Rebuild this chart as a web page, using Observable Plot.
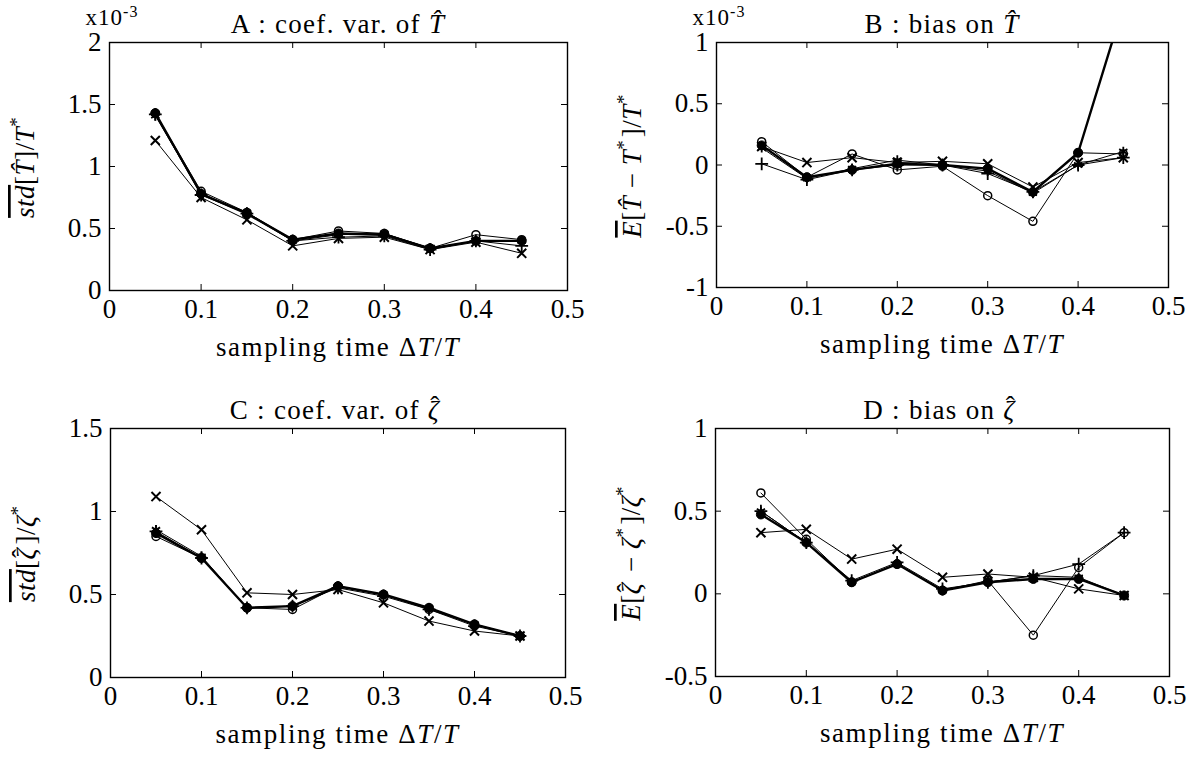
<!DOCTYPE html>
<html><head><meta charset="utf-8">
<script src="https://cdn.jsdelivr.net/npm/d3@7"></script>
<script src="https://cdn.jsdelivr.net/npm/@observablehq/plot@0.6"></script>
<style>
body{margin:0;background:#fff;}
#wrap{position:relative;width:1195px;height:764px;overflow:hidden;background:#fff;}
.panel{position:absolute;}
#wrap svg, #wrap svg text, #wrap svg tspan{font-family:"Liberation Serif","Times New Roman",serif !important;}
</style></head><body><div id="wrap"></div>
<script>
// ---------- data ----------
const samplingTimes = [0.05, 0.10, 0.15, 0.20, 0.25, 0.30, 0.35, 0.40, 0.45];
const seriesKeys = ["o", "x", "+", "*", "."];
const xTicks = [0, 0.1, 0.2, 0.3, 0.4, 0.5];
const yTicksA = [0, 0.5, 1, 1.5, 2];
const yTicksB = [-1, -0.5, 0, 0.5, 1];
const yTicksC = [0, 0.5, 1, 1.5];
const yTicksD = [-0.5, 0, 0.5, 1];

// A : coef. var. of T-hat (x1e-3)
const A_o   = [1.43, 0.80, 0.63, 0.41, 0.48, 0.46, 0.34, 0.45, 0.41];
const A_x   = [1.21, 0.75, 0.57, 0.36, 0.42, 0.43, 0.33, 0.39, 0.30];
const A_p   = [1.42, 0.77, 0.62, 0.40, 0.43, 0.44, 0.33, 0.40, 0.36];
const A_s   = [1.41, 0.78, 0.63, 0.40, 0.45, 0.46, 0.34, 0.40, 0.40];
const A_d   = [1.43, 0.78, 0.62, 0.41, 0.46, 0.45, 0.34, 0.40, 0.40];
// B : bias on T-hat (x1e-3)
const B_o   = [0.19, -0.10, 0.09, -0.04, -0.01, -0.25, -0.46, 0.10, 0.09];
const B_x   = [0.15, 0.02, 0.06, 0.02, 0.03, 0.01, -0.18, 0.02, 0.06];
const B_p   = [0.01, -0.12, -0.04, 0.00, 0.00, -0.07, -0.22, 0.00, 0.06];
const B_s   = [0.14, -0.11, -0.03, 0.04, 0.00, -0.05, -0.23, 0.00, 0.11];
const B_d   = [0.16, -0.10, -0.04, 0.01, 0.00, -0.03, -0.22, 0.10, 1.30];
// C : coef. var. of zeta-hat
const C_o   = [0.85, 0.72, 0.42, 0.41, 0.55, 0.50, 0.41, 0.32, 0.25];
const C_x   = [1.09, 0.89, 0.51, 0.50, 0.53, 0.45, 0.34, 0.28, 0.25];
const C_p   = [0.88, 0.72, 0.42, 0.43, 0.54, 0.49, 0.41, 0.31, 0.25];
const C_s   = [0.89, 0.73, 0.42, 0.43, 0.55, 0.50, 0.42, 0.32, 0.25];
const C_d   = [0.87, 0.72, 0.42, 0.43, 0.55, 0.50, 0.42, 0.32, 0.25];
// D : bias on zeta-hat
const D_o   = [0.61, 0.33, 0.07, 0.18, 0.02, 0.08, -0.25, 0.16, 0.37];
const D_x   = [0.37, 0.39, 0.21, 0.27, 0.10, 0.12, 0.10, 0.03, -0.01];
const D_p   = [0.50, 0.31, 0.08, 0.19, 0.03, 0.07, 0.11, 0.18, 0.37];
const D_s   = [0.50, 0.31, 0.07, 0.18, 0.02, 0.07, 0.11, 0.10, -0.01];
const D_d   = [0.48, 0.31, 0.07, 0.18, 0.02, 0.07, 0.09, 0.09, -0.01];

// ---------- rendering ----------
const FONT = "'Liberation Serif', 'Times New Roman', serif";
const TICK_FS = 27, TITLE_FS = 27, LABEL_FS = 27, YLABEL_FS = 27;

function rows(series) {
  const out = [];
  seriesKeys.forEach((k, i) => series[i].forEach((v, j) => out.push({t: samplingTimes[j], v, s: k})));
  return out;
}

// rich text pieces
const That = [["T\u0302", {it: true}]];
const Zhat = [["\u03B6", {it: true}], ["\u02C6", {dx: -0.36, dy: -0.16}], ["\u200A", {dx: 0.04, dy: 0.16}]];
const star = [["*", {sup: true}]];

const panels = [
  {left: 0,   top: 0,   w: 597, h: 382, ml: 109, mr: 30, mt: 42, mb: 92, yd: [0, 2],    yt: yTicksA, series: [A_o, A_x, A_p, A_s, A_d], exp: true,
   title: [["A : coef. var. of ", {}], ...That],
   ylab: [["std", {it: true, ov: true}], ["[", {}], ...That, ["]/", {}], ["T", {it: true}], ...star]},
  {left: 597, top: 0,   w: 598, h: 382, ml: 119, mr: 27, mt: 42, mb: 95, yd: [-1, 1],   yt: yTicksB, series: [B_o, B_x, B_p, B_s, B_d], exp: true,
   title: [["B : bias on ", {}], ...That],
   ylab: [["E", {it: true, ov: true}], ["[", {}], ...That, [" \u2212 ", {}], ["T", {it: true}], ...star, ["]/", {}], ["T", {it: true}], ...star]},
  {left: 0,   top: 382, w: 597, h: 382, ml: 110, mr: 32, mt: 46, mb: 87, yd: [0, 1.5],  yt: yTicksC, series: [C_o, C_x, C_p, C_s, C_d], exp: false,
   title: [["C : coef. var. of ", {}], ...Zhat],
   ylab: [["std", {it: true, ov: true}], ["[", {}], ...Zhat, ["]/", {}], ["\u03B6", {it: true}], ...star]},
  {left: 597, top: 382, w: 598, h: 382, ml: 118, mr: 26, mt: 46, mb: 88, yd: [-0.5, 1], yt: yTicksD, series: [D_o, D_x, D_p, D_s, D_d], exp: false,
   title: [["D : bias on ", {}], ...Zhat],
   ylab: [["E", {it: true, ov: true}], ["[", {}], ...Zhat, [" \u2212 ", {}], ["\u03B6", {it: true}], ...star, ["]/", {}], ["\u03B6", {it: true}], ...star]}
];

function addRich(sel, parts, fs) {
  parts.forEach(([txt, o]) => {
    const ts = sel.append("tspan").text(txt);
    if (o.it) ts.attr("font-style", "italic");
    if (o.ov) ts.style("text-decoration", "overline");
    if (o.dx) ts.attr("dx", o.dx * fs);
    if (o.dy) ts.attr("dy", o.dy * fs);
    if (o.sup) {
      ts.attr("font-size", fs * 0.7).attr("dy", -fs * 0.4);
      sel.append("tspan").text("\u200A").attr("dy", fs * 0.4);
    }
  });
}

const wrap = d3.select("#wrap");
panels.forEach(p => {
  const iw = p.w - p.ml - p.mr, ih = p.h - p.mt - p.mb;
  const data = rows(p.series);
  const thin = data.filter(d => d.s !== ".");
  const thick = data.filter(d => d.s === ".");
  const fmt = d => String(d);
  const svg = Plot.plot({
    width: p.w, height: p.h,
    marginLeft: p.ml, marginRight: p.mr, marginTop: p.mt, marginBottom: p.mb,
    style: {fontFamily: FONT, fontSize: TICK_FS + "px", color: "black", background: "white", overflow: "visible"},
    x: {domain: [0, 0.5]},
    y: {domain: p.yd},
    marks: [
      Plot.axisX(xTicks, {tickSize: 0, tickPadding: 8, tickFormat: fmt, label: null, fontSize: TICK_FS, fontFamily: FONT}),
      Plot.axisY(p.yt, {tickSize: 0, tickPadding: 8, tickFormat: fmt, label: null, fontSize: TICK_FS, fontFamily: FONT}),
      Plot.tickX(xTicks, {x: d => d, insetTop: ih - 6, stroke: "black"}),
      Plot.tickX(xTicks, {x: d => d, insetBottom: ih - 6, stroke: "black"}),
      Plot.tickY(p.yt, {y: d => d, insetRight: iw - 6, stroke: "black"}),
      Plot.tickY(p.yt, {y: d => d, insetLeft: iw - 6, stroke: "black"}),
      Plot.line(thin, {x: "t", y: "v", z: "s", stroke: "black", strokeWidth: 1, clip: true}),
      Plot.line(thick, {x: "t", y: "v", z: "s", stroke: "black", strokeWidth: 2.4, clip: true}),
      Plot.dot(data.filter(d => d.s === "o"), {x: "t", y: "v", symbol: "circle", r: 4, stroke: "black", fill: "none", strokeWidth: 1.5, clip: true}),
      Plot.dot(data.filter(d => d.s === "x"), {x: "t", y: "v", symbol: "times", r: 4.2, stroke: "black", strokeWidth: 2, clip: true}),
      Plot.dot(data.filter(d => d.s === "+"), {x: "t", y: "v", symbol: "plus", r: 4.2, stroke: "black", strokeWidth: 1.8, clip: true}),
      Plot.dot(data.filter(d => d.s === "*"), {x: "t", y: "v", symbol: "asterisk", r: 4.5, stroke: "black", strokeWidth: 1.8, clip: true}),
      Plot.dot(thick, {x: "t", y: "v", symbol: "circle", r: 4.5, fill: "black", stroke: "black", strokeWidth: 1, clip: true}),
      Plot.frame({stroke: "black", strokeWidth: 1.4})
    ]
  });
  const div = wrap.append("div").attr("class", "panel").style("left", p.left + "px").style("top", p.top + "px");
  div.node().appendChild(svg);
  const s = d3.select(svg);
  const g = s.append("g").attr("fill", "black");
  // title
  const t = g.append("text").attr("x", p.ml + iw / 2).attr("y", p.mt - 9).attr("text-anchor", "middle")
    .attr("font-size", TITLE_FS).attr("letter-spacing", "1.3px");
  addRich(t, p.title, TITLE_FS);
  // exponent
  if (p.exp) {
    const e = g.append("text").attr("x", p.ml + 3).attr("y", p.mt - 17).attr("font-size", 23).attr("letter-spacing", "1px");
    e.append("tspan").text("x10");
    e.append("tspan").text("-3").attr("font-size", 16).attr("dy", -8);
  }
  // x label
  const xl = g.append("text").attr("x", p.ml + iw / 2).attr("y", p.mt + ih + 66).attr("text-anchor", "middle")
    .attr("font-size", LABEL_FS).attr("letter-spacing", "1.6px");
  addRich(xl, [["sampling time \u0394", {}], ["T", {it: true}], ["/", {}], ["T", {it: true}]], LABEL_FS);
  // y label
  const yl = g.append("text").attr("transform", `translate(${p.ml - 75},${p.mt + ih / 2}) rotate(-90)`).attr("text-anchor", "middle")
    .attr("font-size", YLABEL_FS).attr("letter-spacing", "0.5px");
  addRich(yl, p.ylab, YLABEL_FS);
});
</script></body></html>
